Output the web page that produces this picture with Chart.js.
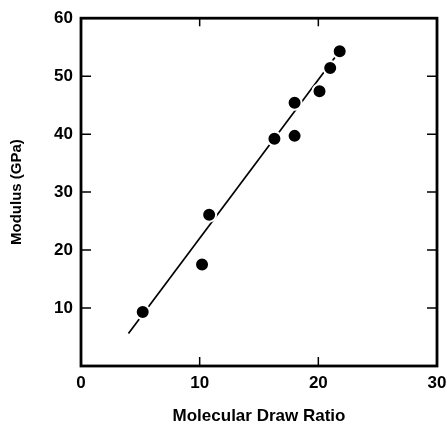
<!DOCTYPE html>
<html>
<head>
<meta charset="utf-8">
<script src="https://cdn.jsdelivr.net/npm/chart.js@4.4.1/dist/chart.umd.min.js"></script>
<style>
  html, body { margin: 0; padding: 0; background: #fff; }
</style>
</head>
<body>
<canvas id="modulusChart" width="447" height="427"></canvas>
<script>
// Measured points
const drawRatio = [5.2, 10.2, 10.8, 16.3, 18.0, 18.0, 20.1, 21.0, 21.8];
const modulus = [9.3, 17.5, 26.1, 39.2, 39.7, 45.4, 47.4, 51.4, 54.3];

// Ends of the fitted straight line
const fitX = [4.0, 21.6];
const fitY = [5.6, 53.8];

// Inner tick marks
const xInnerTicks = [10, 20];
const yInnerTicks = [10, 20, 30, 40, 50];

const FONT = "'Liberation Sans', Arial, Helvetica, sans-serif";

// Frame round the plot plus the inward tick marks
const framePlugin = {
    id: 'frame',
    afterDraw(chart) {
        const ctx = chart.ctx;
        const a = chart.chartArea;
        const xs = chart.scales.x;
        const ys = chart.scales.y;
        ctx.save();
        ctx.strokeStyle = '#000';
        ctx.lineWidth = 2.8;
        ctx.strokeRect(a.left, a.top, a.right - a.left, a.bottom - a.top);
        ctx.lineWidth = 1.5;
        ctx.beginPath();
        xInnerTicks.forEach(v => {
            const px = xs.getPixelForValue(v);
            ctx.moveTo(px, a.bottom);
            ctx.lineTo(px, a.bottom - 9);
            ctx.moveTo(px, a.top);
            ctx.lineTo(px, a.top + 8);
        });
        yInnerTicks.forEach(v => {
            const py = ys.getPixelForValue(v);
            ctx.moveTo(a.left, py);
            ctx.lineTo(a.left + 10, py);
            ctx.moveTo(a.right, py);
            ctx.lineTo(a.right - 10, py);
        });
        ctx.stroke();
        ctx.restore();
    }
};

const ctx = document.getElementById('modulusChart').getContext('2d');
new Chart(ctx, {
    type: 'scatter',
    data: {
        datasets: [{
            label: 'Measured',
            data: drawRatio.map((x, i) => ({ x: x, y: modulus[i] })),
            backgroundColor: '#000',
            borderColor: '#fff',
            borderWidth: 2,
            pointRadius: 7,
            order: 0
        }, {
            label: 'Fit',
            data: fitX.map((x, i) => ({ x: x, y: fitY[i] })),
            showLine: true,
            borderColor: '#000',
            borderWidth: 1.7,
            pointRadius: 0,
            order: 1
        }]
    },
    options: {
        responsive: false,
        animation: false,
        devicePixelRatio: 1,
        layout: { padding: { top: 17, right: 10, left: 0, bottom: 0 } },
        plugins: {
            legend: { display: false },
            tooltip: { enabled: false }
        },
        scales: {
            x: {
                type: 'linear',
                min: 0,
                max: 30,
                afterFit: s => {
                    s.height = 61;
                    s.paddingLeft = 0;
                    s.paddingRight = 10;
                },
                grid: { display: false, drawTicks: false },
                border: { display: false },
                ticks: {
                    stepSize: 10,
                    padding: 7,
                    color: '#000',
                    font: { family: FONT, size: 17, weight: 'bold' }
                },
                title: {
                    display: true,
                    text: 'Molecular Draw Ratio',
                    color: '#000',
                    padding: { top: 0, bottom: 0 },
                    font: { family: FONT, size: 17, weight: 'bold' }
                }
            },
            y: {
                type: 'linear',
                min: 0,
                max: 60,
                afterFit: s => { s.width = 81; },
                grid: { display: false, drawTicks: false },
                border: { display: false },
                ticks: {
                    stepSize: 10,
                    padding: 8,
                    color: '#000',
                    font: { family: FONT, size: 17, weight: 'bold' },
                    callback: v => (v === 0 ? '' : v)
                },
                title: {
                    display: true,
                    text: 'Modulus (GPa)',
                    color: '#000',
                    padding: { top: 8, bottom: 0 },
                    font: { family: FONT, size: 15, weight: 'bold' }
                }
            }
        }
    },
    plugins: [framePlugin]
});
</script>
</body>
</html>
